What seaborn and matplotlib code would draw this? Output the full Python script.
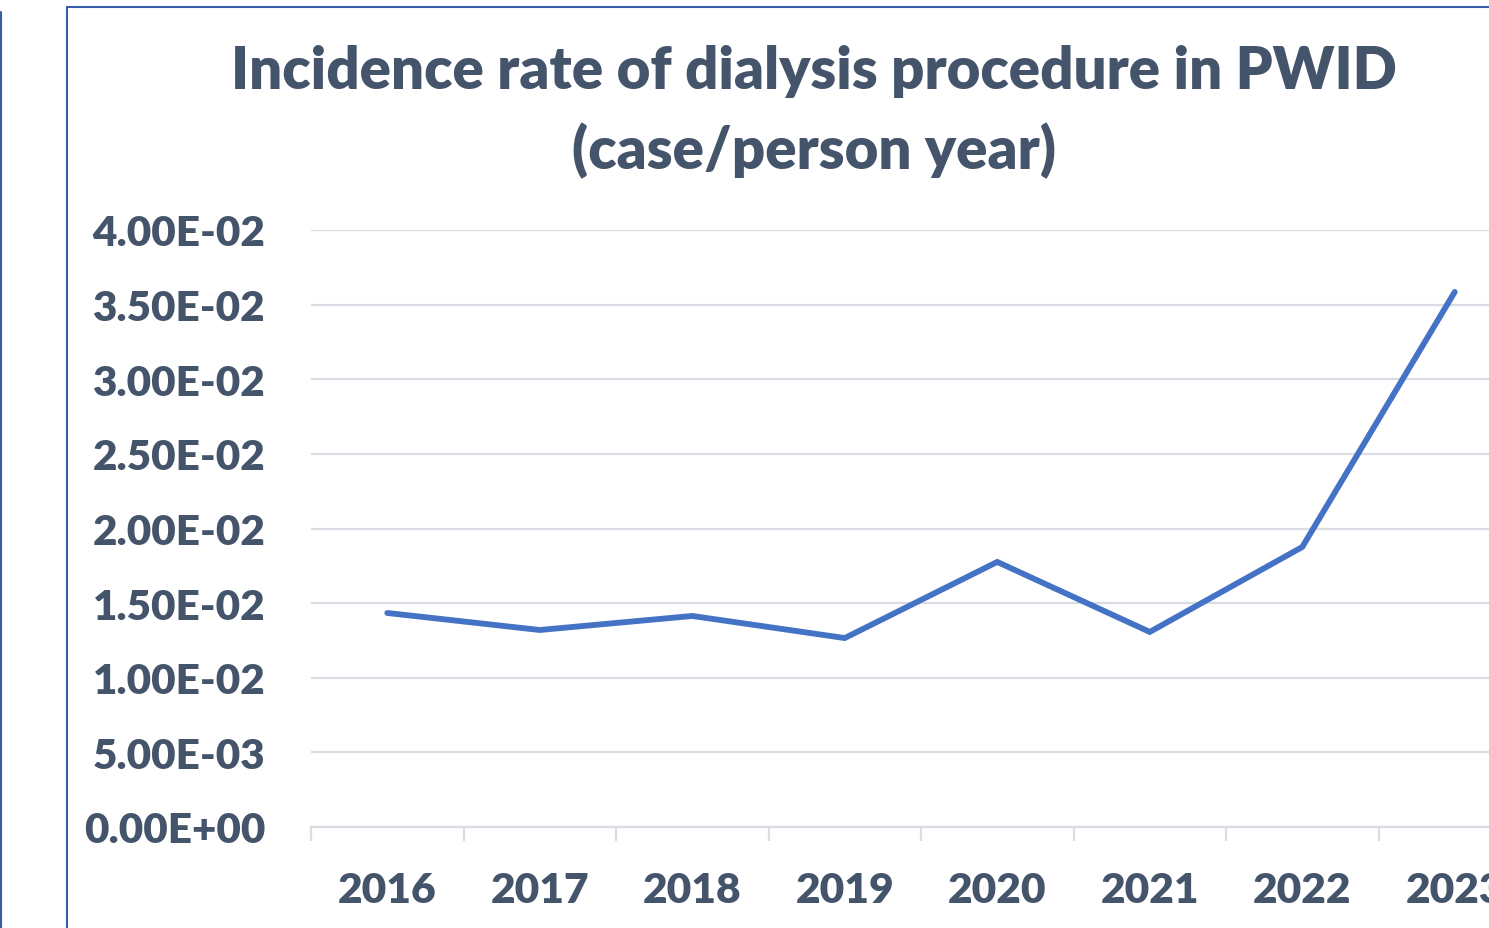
import matplotlib
matplotlib.use("Agg")
import matplotlib.pyplot as plt
from matplotlib.lines import Line2D
from matplotlib.ticker import FuncFormatter, FixedLocator
import pandas as pd
import seaborn as sns

years = ["2016", "2017", "2018", "2019", "2020", "2021", "2022", "2023"]
rates = [0.01434, 0.01320, 0.01414, 0.01266, 0.01776, 0.01307, 0.01876, 0.03585]
y_ticks = [0, 0.005, 0.01, 0.015, 0.02, 0.025, 0.03, 0.035, 0.04]

df = pd.DataFrame({"year": years, "rate": rates})

sns.set_style("white")
plt.rcParams['font.family'] = ['Lato', 'DejaVu Sans']
text_col = "#44546A"
grid_col = "#D9DDE3"
border_col = "#3A5DA8"

W, H = 1489, 929
fig = plt.figure(figsize=(W / 100, H / 100), dpi=100)
ax = fig.add_axes([311 / W, (H - 828) / H, 1220 / W, 597 / H])

sns.lineplot(data=df, x="year", y="rate", ax=ax, sort=False,
             color="#4472C4", linewidth=4.2, solid_capstyle="round", solid_joinstyle="miter")

ax.set_ylim(0, 0.04)
ax.set_xlim(-0.5, len(years) - 0.5)
ax.set_yticks(y_ticks)
ax.yaxis.set_major_formatter(FuncFormatter(lambda v, p: f"{v:.2E}"))
ax.yaxis.grid(True, color=grid_col, linewidth=1.6)
ax.set_axisbelow(True)
ax.set_xlabel("")
ax.set_ylabel("")

for s in ["left", "top", "right"]:
    ax.spines[s].set_visible(False)
ax.spines["bottom"].set_color(grid_col)
ax.spines["bottom"].set_linewidth(1.6)

ax.tick_params(axis="y", length=0, pad=33, labelsize=30.4, labelcolor=text_col)
ax.tick_params(axis="x", which="major", length=0, pad=32, labelsize=30.6, labelcolor=text_col)
ax.xaxis.set_minor_locator(FixedLocator([i - 0.5 for i in range(len(years) + 1)]))
ax.tick_params(axis="x", which="minor", bottom=True, direction="out",
               length=10, width=1.6, color=grid_col)
for lab in ax.get_xticklabels() + ax.get_yticklabels():
    lab.set_fontweight("heavy")

fig.text(814 / W, 1 - 71 / H, "Incidence rate of dialysis procedure in PWID",
         ha="center", va="center", fontsize=41.9, fontweight="heavy", color=text_col)
fig.text(814 / W, 1 - 151 / H, "(case/person year)",
         ha="center", va="center", fontsize=41.9, fontweight="heavy", color=text_col)

# chart frame edges
fig.add_artist(Line2D([67 / W, 67 / W], [0, 1 - 8 / H], transform=fig.transFigure,
                      color=border_col, linewidth=1.5))
fig.add_artist(Line2D([67 / W, 1], [1 - 8 / H, 1 - 8 / H], transform=fig.transFigure,
                      color=border_col, linewidth=1.5))
fig.add_artist(Line2D([1 / W, 1 / W], [0, 1 - 13 / H], transform=fig.transFigure,
                      color=border_col, linewidth=1.5))

plt.savefig("out.png", dpi=100)
